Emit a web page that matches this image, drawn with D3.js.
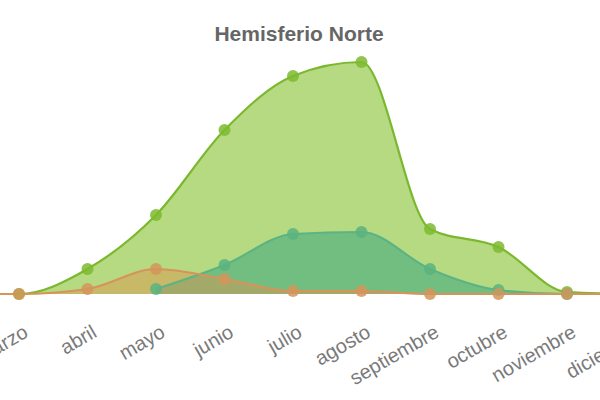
<!DOCTYPE html>
<html><head><meta charset="utf-8">
<script src="https://cdn.jsdelivr.net/npm/d3@7"></script>
<style>body{margin:0;background:#fff}svg{display:block}</style>
</head><body>
<svg id="c" width="600" height="400"></svg>
<script>
const months = ["enero","febrero","marzo","abril","mayo","junio","julio","agosto","septiembre","octubre","noviembre","diciembre"];
const visibleMonths = ["marzo","abril","mayo","junio","julio","agosto","septiembre","octubre","noviembre","diciembre"];
const serieVerde = [0,0,0,25,79,164,218,232,65,47,2,0];
const serieTeal  = [null,null,null,null,5,29,60,62,25,4,0,0];
const serieNaranja = [0,0,0,5,25,15,3,3,0,0,0,0];
const title = "Hemisferio Norte";

const svg = d3.select("#c");
const x = d3.scalePoint().domain(months).range([19-2*68.5, 19+9*68.5]);
const y = d3.scaleLinear().domain([0,240]).range([294,54]);

svg.append("text").attr("x",299).attr("y",41).attr("text-anchor","middle")
  .attr("font-family","Liberation Sans, Arial, sans-serif").attr("font-weight","bold")
  .attr("font-size",21).attr("fill","#666").text(title);

const series = [
  {v:serieVerde, fill:"#8dc63f", fo:0.65, stroke:"#7cb82f", pt:"#7cba2f"},
  {v:serieTeal, fill:"#3aa882", fo:0.55, stroke:"#5cb384", pt:"#5ab37f"},
  {v:serieNaranja, fill:"#e0904a", fo:0.45, stroke:"#d8935a", pt:"#d4955a"}
];
const def = d=>d!==null;
const area = d3.area().defined(def).x((d,i)=>x(months[i])).y0(y(0)).y1(d=>y(d)).curve(d3.curveMonotoneX);
const line = d3.line().defined(def).x((d,i)=>x(months[i])).y(d=>y(d)).curve(d3.curveMonotoneX);

series.forEach(s=>{
  svg.append("path").datum(s.v).attr("d",area).attr("fill",s.fill).attr("fill-opacity",s.fo);
});
series.forEach(s=>{
  svg.append("path").datum(s.v).attr("d",line).attr("fill","none").attr("stroke",s.stroke).attr("stroke-width",2.2);
});
series.forEach(s=>{
  svg.append("g").selectAll("circle").data(s.v.map((d,i)=>({d,i})).filter(p=>p.d!==null)).join("circle")
    .attr("cx",p=>x(months[p.i])).attr("cy",p=>y(p.d)).attr("r",6)
    .attr("fill",s.pt).attr("fill-opacity",0.85);
});

const axis = d3.axisBottom(x).tickValues(visibleMonths).tickSize(0).tickPadding(0);
const g = svg.append("g").attr("transform","translate(0,300)").call(axis);
g.select(".domain").remove();
g.selectAll("text")
  .attr("font-family","Liberation Sans, Arial, sans-serif").attr("font-size",20).attr("fill","#7a7a7a")
  .attr("text-anchor","end").attr("dy",0)
  .attr("transform","translate(10,36) rotate(-30)");
</script>
</body></html>
